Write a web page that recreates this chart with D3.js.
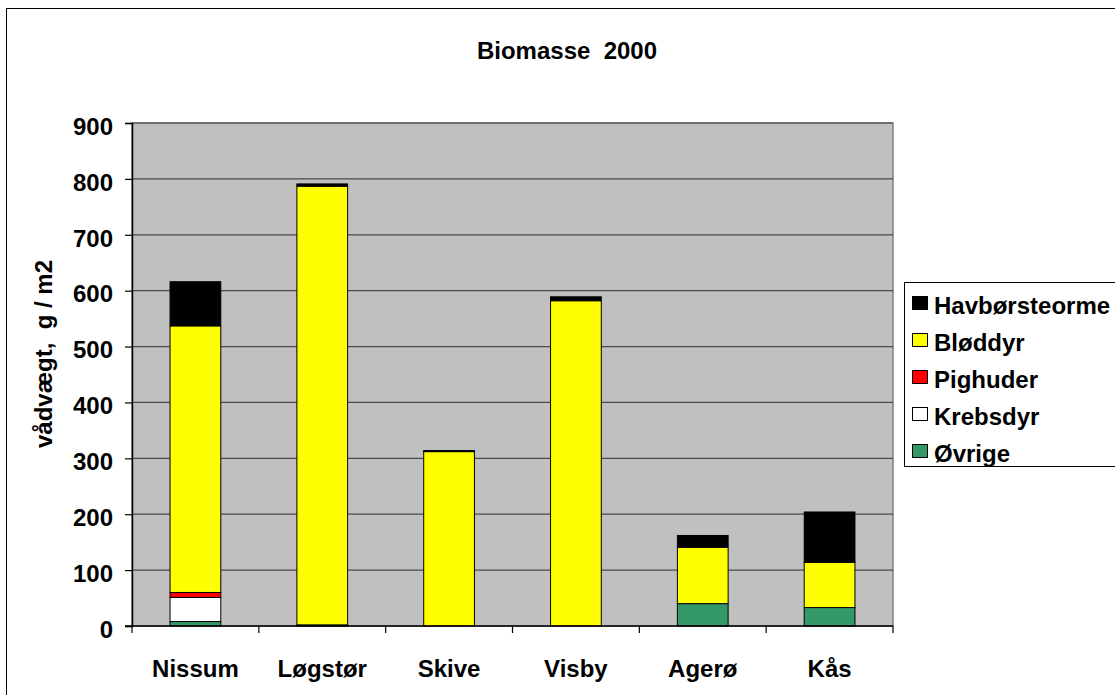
<!DOCTYPE html>
<html>
<head>
<meta charset="utf-8">
<script src="https://cdn.jsdelivr.net/npm/d3@7"></script>
<style>
  body { margin: 0; background: #fff; }
  text { font-family: "Liberation Sans", Arial, sans-serif; font-weight: bold; fill: #000; }
</style>
</head>
<body>
<div id="chart"></div>
<script>
// data
const categories = ["Nissum", "Løgstør", "Skive", "Visby", "Agerø", "Kås"];
const seriesNames = ["Øvrige", "Krebsdyr", "Pighuder", "Bløddyr", "Havbørsteorme"];
const ovrige = [8, 2, 0, 0, 40, 33];
const krebsdyr = [43, 0, 0, 0, 0, 0];
const pighuder = [9, 0, 0, 0, 0, 0];
const bloddyr = [477, 785, 312, 582, 101, 81];
const havborsteorme = [79, 4, 2, 7, 21, 90];
const yTicks = [0, 100, 200, 300, 400, 500, 600, 700, 800, 900];

const seriesColors = ["#339966", "#ffffff", "#ff0000", "#ffff00", "#000000"];

const width = 1115, height = 695;
const plot = { left: 132, top: 123, right: 893, bottom: 626 };

const rows = categories.map((c, i) => ({
  cat: c,
  "Øvrige": ovrige[i],
  "Krebsdyr": krebsdyr[i],
  "Pighuder": pighuder[i],
  "Bløddyr": bloddyr[i],
  "Havbørsteorme": havborsteorme[i]
}));

const svg = d3.select("#chart")
  .append("svg")
  .attr("width", width)
  .attr("height", height);

// outer chart frame
svg.append("rect")
  .attr("x", 6.5).attr("y", 8.5)
  .attr("width", 1200).attr("height", 800)
  .attr("fill", "#fff")
  .attr("stroke", "#000")
  .attr("stroke-width", 1);

const x = d3.scaleBand()
  .domain(categories)
  .range([plot.left, plot.right])
  .paddingInner(0.6)
  .paddingOuter(0.3);

const y = d3.scaleLinear()
  .domain([0, 900])
  .range([plot.bottom, plot.top]);

// plot area
svg.append("rect")
  .attr("x", plot.left).attr("y", plot.top)
  .attr("width", plot.right - plot.left)
  .attr("height", plot.bottom - plot.top)
  .attr("fill", "#c0c0c0")
  .attr("stroke", "#808080")
  .attr("stroke-width", 1.5);

// gridlines
svg.append("g")
  .selectAll("line")
  .data(yTicks.filter(d => d > 0))
  .enter().append("line")
  .attr("x1", plot.left).attr("x2", plot.right)
  .attr("y1", d => y(d)).attr("y2", d => y(d))
  .attr("stroke", "#4a4a4a")
  .attr("stroke-width", 1.2);

// stacked bars
const stack = d3.stack().keys(seriesNames)(rows);

const layers = svg.append("g")
  .selectAll("g")
  .data(stack)
  .enter().append("g")
  .attr("fill", (d, i) => seriesColors[i]);

layers.selectAll("rect")
  .data(d => d.filter(s => s[1] - s[0] > 0))
  .enter().append("rect")
  .attr("x", d => x(d.data.cat))
  .attr("width", x.bandwidth())
  .attr("y", d => y(d[1]))
  .attr("height", d => y(d[0]) - y(d[1]))
  .attr("stroke", "#000")
  .attr("stroke-width", 1);

// y axis
const yAxis = svg.append("g")
  .attr("transform", `translate(${plot.left},0)`)
  .call(d3.axisLeft(y).tickValues(yTicks).tickSize(7).tickPadding(12));
yAxis.select(".domain").attr("stroke", "#000").attr("stroke-width", 1.5);
yAxis.selectAll(".tick line").attr("stroke", "#000").attr("stroke-width", 1.2);
yAxis.selectAll(".tick text")
  .attr("font-size", 24)
  .attr("dy", "0.47em")
  .style("font-family", "'Liberation Sans', Arial, sans-serif")
  .style("font-weight", "bold");

// x axis: line, ticks between categories, labels
const xAxis = svg.append("g");
xAxis.append("line")
  .attr("x1", plot.left - 7).attr("x2", plot.right)
  .attr("y1", plot.bottom).attr("y2", plot.bottom)
  .attr("stroke", "#000").attr("stroke-width", 1.5);

const bounds = categories.map(c => x(c) - x.step() * x.paddingInner() / 2)
  .concat([plot.right]);
xAxis.selectAll(".xtick")
  .data(bounds)
  .enter().append("line")
  .attr("class", "xtick")
  .attr("x1", d => d).attr("x2", d => d)
  .attr("y1", plot.bottom).attr("y2", plot.bottom + 7)
  .attr("stroke", "#000").attr("stroke-width", 1.2);

xAxis.selectAll(".xlabel")
  .data(categories)
  .enter().append("text")
  .attr("class", "xlabel")
  .attr("x", d => x(d) + x.bandwidth() / 2)
  .attr("y", 676.5)
  .attr("text-anchor", "middle")
  .attr("font-size", 24)
  .text(d => d);

// title
svg.append("text")
  .attr("x", 567)
  .attr("y", 59)
  .attr("text-anchor", "middle")
  .attr("font-size", 24)
  .style("white-space", "pre")
  .text("Biomasse  2000");

// y axis title
svg.append("text")
  .attr("transform", "translate(52,354) rotate(-90)")
  .attr("text-anchor", "middle")
  .attr("font-size", 24)
  .style("white-space", "pre")
  .text("vådvægt,  g / m2");

// legend
const legend = svg.append("g");
legend.append("rect")
  .attr("x", 904.5).attr("y", 282.5)
  .attr("width", 300).attr("height", 184)
  .attr("fill", "#fff")
  .attr("stroke", "#000")
  .attr("stroke-width", 1);

const legendOrder = seriesNames.slice().reverse();
const items = legend.selectAll(".item")
  .data(legendOrder)
  .enter().append("g")
  .attr("class", "item")
  .attr("transform", (d, i) => `translate(0,${314 + i * 37})`);

items.append("rect")
  .attr("x", 912.5).attr("y", -17.5)
  .attr("width", 15).attr("height", 13)
  .attr("fill", d => seriesColors[seriesNames.indexOf(d)])
  .attr("stroke", "#000")
  .attr("stroke-width", 1);

items.append("text")
  .attr("x", 934)
  .attr("y", 0)
  .attr("font-size", 24)
  .text(d => d);
</script>
</body>
</html>
